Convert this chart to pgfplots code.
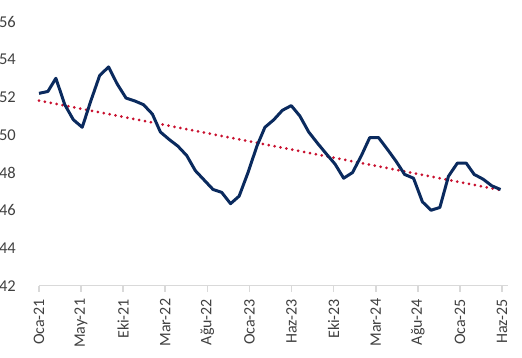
\documentclass[border=0pt]{standalone}
\usepackage{pgfplots}
\pgfplotsset{compat=1.18}
\usepackage{fontspec}
\setmainfont{Carlito}
\definecolor{navy}{HTML}{0A2A5E}
\definecolor{trendred}{HTML}{C8102E}
\definecolor{axgray}{HTML}{D9D9D9}
\definecolor{lbl}{HTML}{404040}
\begin{document}
\begin{tikzpicture}
\path[use as bounding box] (0,0) rectangle (522pt,358pt);
\begin{axis}[
  at={(39pt,72.3pt)}, anchor=south west,
  scale only axis, width=469pt, height=264pt,
  xmin=0, xmax=1638, ymin=42, ymax=56,
  axis x line=bottom, axis y line=left,
  axis line style={draw=axgray, line width=1.6pt, -},
  y axis line style={draw=none},
  xtick={0,147,294,441,588,735,882,1029,1176,1323,1470,1617},
  xticklabels={Oca-21,May-21,Eki-21,Mar-22,Ağu-22,Oca-23,Haz-23,Eki-23,Mar-24,Ağu-24,Oca-25,Haz-25},
  xtick style={draw=axgray, line width=1.6pt},
  tick align=outside, major tick length=6pt,
  ytick={42,44,...,56},
  ytick style={draw=none},
  xticklabel shift=7pt,
  xticklabel style={rotate=90, anchor=east, inner sep=0pt, font=\fontsize{16}{17}\selectfont, text=lbl},
  yticklabel style={anchor=east, inner sep=0pt, xshift=-17pt, font=\fontsize{16.5}{18}\selectfont, text=lbl},
  /pgf/number format/assume math mode=true,
  clip=false,
]
\addplot[color=trendred, line width=3pt, line cap=round, dash pattern=on 0pt off 6pt] coordinates {(0,51.82) (1612,47.07)};
\addplot[color=navy, line width=3pt, line join=round, mark=none] coordinates {
(0,52.2) (31,52.3) (59,53.0) (90,51.6) (120,50.8) (151,50.4)
(181,51.8) (212,53.15) (243,53.6) (273,52.7) (304,51.95) (334,51.8)
(365,51.6) (396,51.1) (424,50.15) (455,49.75) (485,49.4) (516,48.9)
(546,48.1) (577,47.6) (608,47.1) (638,46.95) (669,46.35) (699,46.75)
(730,48.0) (761,49.4) (789,50.4) (820,50.8) (850,51.3) (881,51.55)
(911,51.0) (942,50.15) (973,49.55) (1003,49.0) (1034,48.45) (1064,47.7)
(1095,48.0) (1126,48.9) (1155,49.85) (1186,49.85) (1216,49.25) (1247,48.6)
(1277,47.9) (1308,47.7) (1339,46.45) (1369,46.0) (1400,46.15) (1430,47.8)
(1461,48.5) (1492,48.5) (1520,47.9) (1551,47.65) (1581,47.3) (1612,47.1)
};
\end{axis}
\end{tikzpicture}
\end{document}
